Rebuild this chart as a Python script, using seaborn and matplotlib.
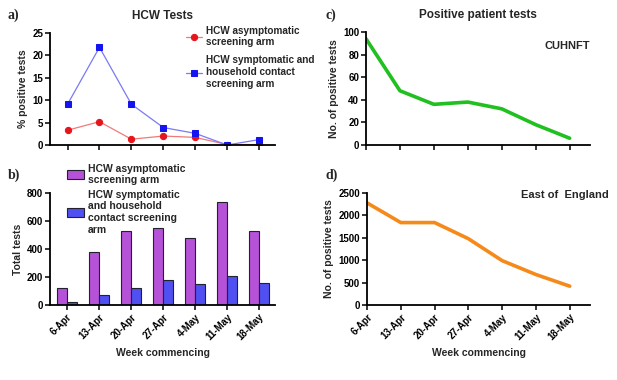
import numpy as np
import pandas as pd
import matplotlib.pyplot as plt
import seaborn as sns

# ---- data ----
weeks = ["6-Apr", "13-Apr", "20-Apr", "27-Apr", "4-May", "11-May", "18-May"]
pct_asym = [3.3, 5.2, 1.3, 2.0, 1.7, 0.1, 0.1]
pct_sym = [9.1, 21.8, 9.1, 3.9, 2.6, 0.0, 1.2]
tests_asym = [120, 380, 530, 550, 480, 735, 530]
tests_sym = [20, 75, 120, 180, 150, 210, 160]
cuh_pos = [94, 48, 36, 38, 32, 18, 6]
eoe_pos = [2280, 1840, 1840, 1480, 990, 680, 420]

lab_asym = "HCW asymptomatic\nscreening arm"
lab_sym_a = "HCW symptomatic and\nhousehold contact\nscreening arm"
lab_sym_b = "HCW symptomatic\nand household\ncontact screening\narm"

sns.set_style("ticks")
plt.rcParams['font.family'] = ['Liberation Sans', 'DejaVu Sans']
plt.rcParams['font.weight'] = 'bold'
plt.rcParams['axes.labelweight'] = 'bold'
plt.rcParams['axes.linewidth'] = 1.3
plt.rcParams['xtick.major.width'] = 1.1
plt.rcParams['ytick.major.width'] = 1.1
plt.rcParams['xtick.major.size'] = 3.5
plt.rcParams['ytick.major.size'] = 3.5
plt.rcParams['xtick.labelsize'] = 7
plt.rcParams['ytick.labelsize'] = 7
plt.rcParams['axes.labelsize'] = 7.5

W, H = 617, 380
fig = plt.figure(figsize=(W / 100, H / 100), dpi=100)


def box(l, t, r, b):
    return [l / W, 1 - b / H, (r - l) / W, (b - t) / H]


ax_a = fig.add_axes(box(50, 33, 275, 145))
ax_b = fig.add_axes(box(50, 193, 275, 305))
ax_c = fig.add_axes(box(366, 32, 590, 145))
ax_d = fig.add_axes(box(367, 193, 590, 305))

x = np.arange(len(weeks))

# ---- a) HCW tests (% positive) ----
df_a = pd.DataFrame({"x": x, "asym": pct_asym, "sym": pct_sym})
sns.lineplot(data=df_a, x="x", y="asym", ax=ax_a, color="#f07a7a", lw=0.9,
             marker="o", markersize=4.5, markerfacecolor="#e8141c",
             markeredgecolor="#e8141c", label=lab_asym)
sns.lineplot(data=df_a, x="x", y="sym", ax=ax_a, color="#7a7af5", lw=0.9,
             marker="s", markersize=4.5, markerfacecolor="#1414f0",
             markeredgecolor="#1414f0", label=lab_sym_a)
ax_a.set_xlim(-0.55, 6.5)
ax_a.set_ylim(0, 25)
ax_a.set_yticks([0, 5, 10, 15, 20, 25])
ax_a.set_xticks(x)
ax_a.set_xticklabels([])
ax_a.set_xlabel("")
ax_a.set_ylabel("% positive tests")
ax_a.set_title("HCW Tests", fontsize=8.5, fontweight="bold", pad=10)
ax_a.legend(loc="upper left", bbox_to_anchor=((182 - 50) / 225, 1.10),
            frameon=False, fontsize=7.2, handlelength=1.6, labelspacing=0.8,
            borderaxespad=0, handletextpad=0.4)

# ---- b) total tests ----
df_b = pd.DataFrame({
    "week": weeks * 2,
    "tests": tests_asym + tests_sym,
    "arm": [lab_asym] * len(weeks) + [lab_sym_b] * len(weeks),
})
sns.barplot(data=df_b, x="week", y="tests", hue="arm", ax=ax_b,
            palette=["#b552d8", "#4f4ff2"], width=0.62, edgecolor="#22222e",
            linewidth=0.8, saturation=1)
ax_b.set_xlim(-0.53, 6.5)
ax_b.set_ylim(0, 800)
ax_b.set_yticks([0, 200, 400, 600, 800])
ax_b.set_xlabel("Week commencing")
ax_b.set_ylabel("Total tests")
ax_b.tick_params(axis="x", rotation=45)
for t in ax_b.get_xticklabels():
    t.set_ha("right")
    t.set_rotation_mode("anchor")
ax_b.legend(loc="upper left", bbox_to_anchor=((63 - 50) / 225, 1.30),
            frameon=False, fontsize=7.5, handlelength=1.6, handleheight=0.9,
            labelspacing=0.45, borderaxespad=0, handletextpad=0.4)

# ---- c) CUHNFT positive patient tests ----
sns.lineplot(x=x, y=cuh_pos, ax=ax_c, color="#1fc01f", lw=2.6)
ax_c.set_xlim(0, 6.6)
ax_c.set_ylim(0, 100)
ax_c.set_yticks([0, 20, 40, 60, 80, 100])
ax_c.set_xticks(x)
ax_c.set_xticklabels([])
ax_c.set_ylabel("No. of positive tests")
ax_c.set_title("Positive patient tests", fontsize=8.5, fontweight="bold", pad=10)
ax_c.text(1.0, 0.88, "CUHNFT", transform=ax_c.transAxes, ha="right",
          va="center", fontsize=8, fontweight="bold")

# ---- d) East of England positive tests ----
sns.lineplot(x=x, y=eoe_pos, ax=ax_d, color="#f58a1a", lw=2.6)
ax_d.set_xlim(0, 6.6)
ax_d.set_ylim(0, 2500)
ax_d.set_yticks([0, 500, 1000, 1500, 2000, 2500])
ax_d.set_xticks(x)
ax_d.set_xticklabels(weeks, rotation=45, ha="right", rotation_mode="anchor")
ax_d.set_xlabel("Week commencing")
ax_d.set_ylabel("No. of positive tests")
ax_d.text(609 / W, 1 - 195 / H, "East of  England", transform=fig.transFigure,
          ha="right", va="center", fontsize=8, fontweight="bold")

for ax in (ax_a, ax_b, ax_c, ax_d):
    sns.despine(ax=ax)
    ax.spines["left"].set_color("black")
    ax.spines["bottom"].set_color("black")
    ax.tick_params(colors="black", pad=1.5)
    ax.yaxis.labelpad = 3

for lab, px, py in (("a)", 8, 15), ("b)", 8, 175), ("c)", 325, 15), ("d)", 325, 175)):
    fig.text(px / W, 1 - py / H, lab, family=["Liberation Serif", "DejaVu Serif"],
             fontsize=10, fontweight="bold", ha="left", va="center")

fig.savefig("out.png", dpi=100)
